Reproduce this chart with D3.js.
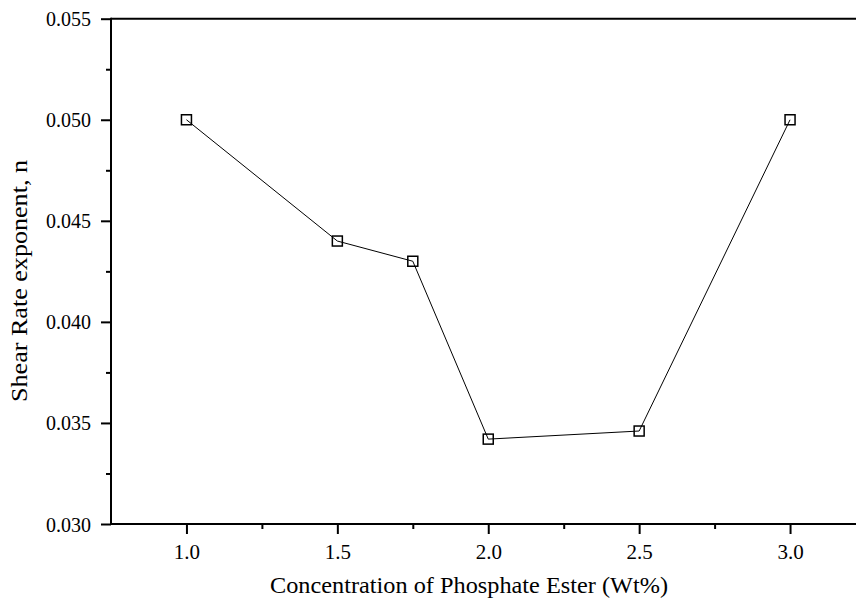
<!DOCTYPE html>
<html>
<head>
<meta charset="utf-8">
<script src="https://cdn.jsdelivr.net/npm/d3@7"></script>
<style>
body { margin: 0; background: #fff; }
text { font-family: "Liberation Serif", "Times New Roman", serif; fill: #000; }
</style>
</head>
<body>
<script>
// data
var concentration = [1.0, 1.5, 1.75, 2.0, 2.5, 3.0];
var exponent = [0.050, 0.044, 0.043, 0.0342, 0.0346, 0.050];
var xTickValues = [1.0, 1.5, 2.0, 2.5, 3.0];
var yTickValues = [0.030, 0.035, 0.040, 0.045, 0.050, 0.055];

var width = 856, height = 605;
var plotLeft = 111, plotTop = 18.7, plotBottom = 524;

var x = d3.scaleLinear().domain([0.75, 3.25]).range([plotLeft, plotLeft + 2.5 * 301.8]);
var y = d3.scaleLinear().domain([0.030, 0.055]).range([plotBottom, plotTop]);

var svg = d3.select('body').append('svg')
	.attr('width', width)
	.attr('height', height);

// minor ticks
svg.append('g')
	.attr('transform', 'translate(' + plotLeft + ',0)')
	.call(d3.axisLeft(y).tickValues([0.0325, 0.0375, 0.0425, 0.0475, 0.0525]).tickSize(5).tickFormat(''))
	.call(function(g) { g.select('.domain').remove(); })
	.selectAll('line').attr('stroke-width', 2);

svg.append('g')
	.attr('transform', 'translate(0,' + plotBottom + ')')
	.call(d3.axisBottom(x).tickValues([1.25, 1.75, 2.25, 2.75]).tickSize(5).tickFormat(''))
	.call(function(g) { g.select('.domain').remove(); })
	.selectAll('line').attr('stroke-width', 2);

// major ticks
var yAxis = svg.append('g')
	.attr('transform', 'translate(' + plotLeft + ',0)')
	.call(d3.axisLeft(y).tickValues(yTickValues).tickSize(10).tickPadding(10).tickFormat(d3.format('.3f')));
yAxis.select('.domain').remove();
yAxis.selectAll('line').attr('stroke-width', 2);
yAxis.selectAll('text').style('font-size', '20px').attr('dy', '0.35em');

var xAxis = svg.append('g')
	.attr('transform', 'translate(0,' + plotBottom + ')')
	.call(d3.axisBottom(x).tickValues(xTickValues).tickSize(10).tickPadding(10).tickFormat(d3.format('.1f')));
xAxis.select('.domain').remove();
xAxis.selectAll('line').attr('stroke-width', 2);
xAxis.selectAll('text').style('font-size', '21px');

// frame lines
svg.append('line').attr('x1', plotLeft).attr('x2', width).attr('y1', plotTop).attr('y2', plotTop)
	.attr('stroke', '#000').attr('stroke-width', 2);
svg.append('line').attr('x1', plotLeft).attr('x2', width).attr('y1', plotBottom).attr('y2', plotBottom)
	.attr('stroke', '#000').attr('stroke-width', 2);
svg.append('line').attr('x1', plotLeft).attr('x2', plotLeft).attr('y1', plotTop - 1).attr('y2', plotBottom + 1)
	.attr('stroke', '#000').attr('stroke-width', 2);

var pts = concentration.map(function(c, i) { return [c, exponent[i]]; });

svg.append('path')
	.datum(pts)
	.attr('fill', 'none')
	.attr('stroke', '#000')
	.attr('stroke-width', 1)
	.attr('d', d3.line().x(function(d) { return x(d[0]); }).y(function(d) { return y(d[1]); }));

svg.selectAll('rect.pt')
	.data(pts)
	.enter().append('rect')
		.attr('class', 'pt')
		.attr('x', function(d) { return x(d[0]) - 5; })
		.attr('y', function(d) { return y(d[1]) - 5; })
		.attr('width', 10)
		.attr('height', 10)
		.attr('fill', 'none')
		.attr('stroke', '#000')
		.attr('stroke-width', 1.5);

// axis titles
svg.append('text')
	.attr('x', 469)
	.attr('y', 593)
	.attr('text-anchor', 'middle')
	.attr('textLength', 398)
	.attr('lengthAdjust', 'spacingAndGlyphs')
	.style('font-size', '23px')
	.text('Concentration of Phosphate Ester (Wt%)');

svg.append('text')
	.attr('transform', 'translate(27,281) rotate(-90)')
	.attr('text-anchor', 'middle')
	.attr('textLength', 242)
	.attr('lengthAdjust', 'spacingAndGlyphs')
	.style('font-size', '23px')
	.text('Shear Rate exponent, n');
</script>
</body>
</html>
